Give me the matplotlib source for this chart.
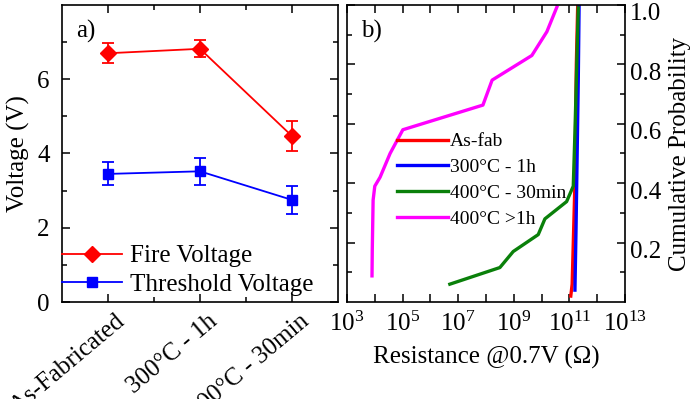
import matplotlib
matplotlib.use("Agg")
import matplotlib.pyplot as plt
from matplotlib.ticker import FixedLocator, LogFormatterMathtext, NullFormatter
from matplotlib.transforms import ScaledTranslation

plt.rcParams["font.family"] = ["Liberation Serif", "DejaVu Serif"]
plt.rcParams["mathtext.fontset"] = "stix"

# panel a: switching voltages per annealing condition
conditions = ["As-Fabricated", "300°C - 1h", "400°C - 30min"]
fire_v = [6.70, 6.82, 4.47]
fire_err = [0.27, 0.23, 0.41]
thresh_v = [3.45, 3.52, 2.75]
thresh_err = [0.31, 0.36, 0.38]

# panel b: cumulative distribution of resistance (log10 ohm, probability)
asfab_logr = [11.05, 11.1, 11.2, 11.25, 11.3]
asfab_prob = [0.02, 0.06, 0.40, 0.80, 1.00]
ann300_logr = [11.2, 11.24, 11.28, 11.32, 11.35]
ann300_prob = [0.04, 0.25, 0.50, 0.75, 1.00]
ann400_logr = [6.70, 8.50, 8.98, 9.88, 10.12, 10.90, 11.14, 11.2, 11.32]
ann400_prob = [0.06, 0.116, 0.17, 0.227, 0.28, 0.338, 0.39, 0.57, 0.99]
ann400l_logr = [3.90, 3.91, 3.94, 4.00, 4.19, 4.55, 5.01, 7.89, 8.22, 9.65, 10.19, 10.55]
ann400l_prob = [0.088, 0.177, 0.343, 0.39, 0.42, 0.50, 0.58, 0.663, 0.747, 0.83, 0.91, 0.993]

fig = plt.figure(figsize=(6.99, 3.99), dpi=100)
ax_a = fig.add_axes([0.0887, 0.2431, 0.3948, 0.7444])
ax_b = fig.add_axes([0.4964, 0.2431, 0.3977, 0.7444])

for ax in (ax_a, ax_b):
    for spine in ax.spines.values():
        spine.set_linewidth(1.2)
    ax.tick_params(which="both", direction="in", top=True, right=True, width=1.1)
    ax.tick_params(which="major", length=6)
    ax.tick_params(which="minor", length=3.5)

# ---- panel a
x = list(range(len(conditions)))
fire = ax_a.errorbar(x, fire_v, yerr=fire_err, color="#ff0000", marker="D", markersize=8,
                     lw=1.3, capsize=4, elinewidth=1.3, capthick=1.3)
thresh = ax_a.errorbar(x, thresh_v, yerr=thresh_err, color="#0000ff", marker="s", markersize=7,
                       lw=1.3, capsize=4, elinewidth=1.3, capthick=1.3)
ax_a.set_xlim(-0.5, 2.5)
ax_a.set_ylim(0, 8)
ax_a.set_yticks([0, 2, 4, 6])
ax_a.yaxis.set_minor_locator(FixedLocator([1, 3, 5, 7]))
ax_a.set_xticks(x)
ax_a.xaxis.set_minor_locator(FixedLocator([0.5, 1.5]))
ax_a.set_xticklabels(conditions, rotation=40, ha="right", rotation_mode="anchor", fontsize=18)
shift = ScaledTranslation(0.07, -0.03, fig.dpi_scale_trans)
for lbl in ax_a.get_xticklabels():
    lbl.set_transform(lbl.get_transform() + shift)
ax_a.tick_params(axis="y", labelsize=18, pad=9)
ax_a.set_ylabel("Voltage (V)", fontsize=18, labelpad=5)
ax_a.text(0.05, 0.95, "a)", transform=ax_a.transAxes, fontsize=18, va="top", ha="left")
ax_a.legend([fire[0], thresh[0]], ["Fire Voltage", "Threshold Voltage"],
            loc="lower left", bbox_to_anchor=(0.0, 0.02), frameon=False, fontsize=18,
            borderpad=0, borderaxespad=0, handlelength=2.4, handletextpad=0.3,
            labelspacing=0.25)

# ---- panel b
ax_b.plot([10 ** v for v in asfab_logr], asfab_prob, color="#ff0000", lw=2.4, label="As-fab")
ax_b.plot([10 ** v for v in ann300_logr], ann300_prob, color="#0000ff", lw=2.4, label="300°C - 1h")
ax_b.plot([10 ** v for v in ann400_logr], ann400_prob, color="#0a800a", lw=2.4, label="400°C - 30min")
ax_b.plot([10 ** v for v in ann400l_logr], ann400l_prob, color="#ff00ff", lw=2.4, label="400°C >1h")
ax_b.set_xscale("log")
ax_b.set_xlim(1e3, 1e13)
ax_b.set_ylim(0, 1.0)
ax_b.xaxis.set_major_locator(FixedLocator([1e3, 1e5, 1e7, 1e9, 1e11, 1e13]))
ax_b.xaxis.set_major_formatter(LogFormatterMathtext())
ax_b.xaxis.set_minor_locator(FixedLocator([1e4, 1e6, 1e8, 1e10, 1e12]))
ax_b.xaxis.set_minor_formatter(NullFormatter())
ax_b.tick_params(axis="x", which="minor", length=6)
ax_b.set_yticks([0.2, 0.4, 0.6, 0.8, 1.0])
ax_b.yaxis.set_minor_locator(FixedLocator([0.1, 0.3, 0.5, 0.7, 0.9]))
ax_b.tick_params(axis="y", labelleft=False, labelright=True, labelsize=18)
down = ScaledTranslation(0, -0.07, fig.dpi_scale_trans)
for lbl in ax_b.get_yticklabels(which="major"):
    lbl.set_transform(lbl.get_transform() + down)
ax_b.tick_params(axis="x", labelsize=18, pad=7)
ax_b.yaxis.set_label_position("right")
ax_b.set_ylabel("Cumulative Probability", fontsize=18, labelpad=6)
ax_b.set_xlabel("Resistance @0.7V (Ω)", fontsize=18, labelpad=7)
ax_b.text(0.05, 0.95, "b)", transform=ax_b.transAxes, fontsize=18, va="top", ha="left")
ax_b.legend(loc="upper left", bbox_to_anchor=(0.18, 0.57), frameon=False, fontsize=14,
            borderpad=0, borderaxespad=0, handlelength=2.6, handletextpad=0.1,
            labelspacing=0.42)

fig.savefig("out.png", dpi=100)
